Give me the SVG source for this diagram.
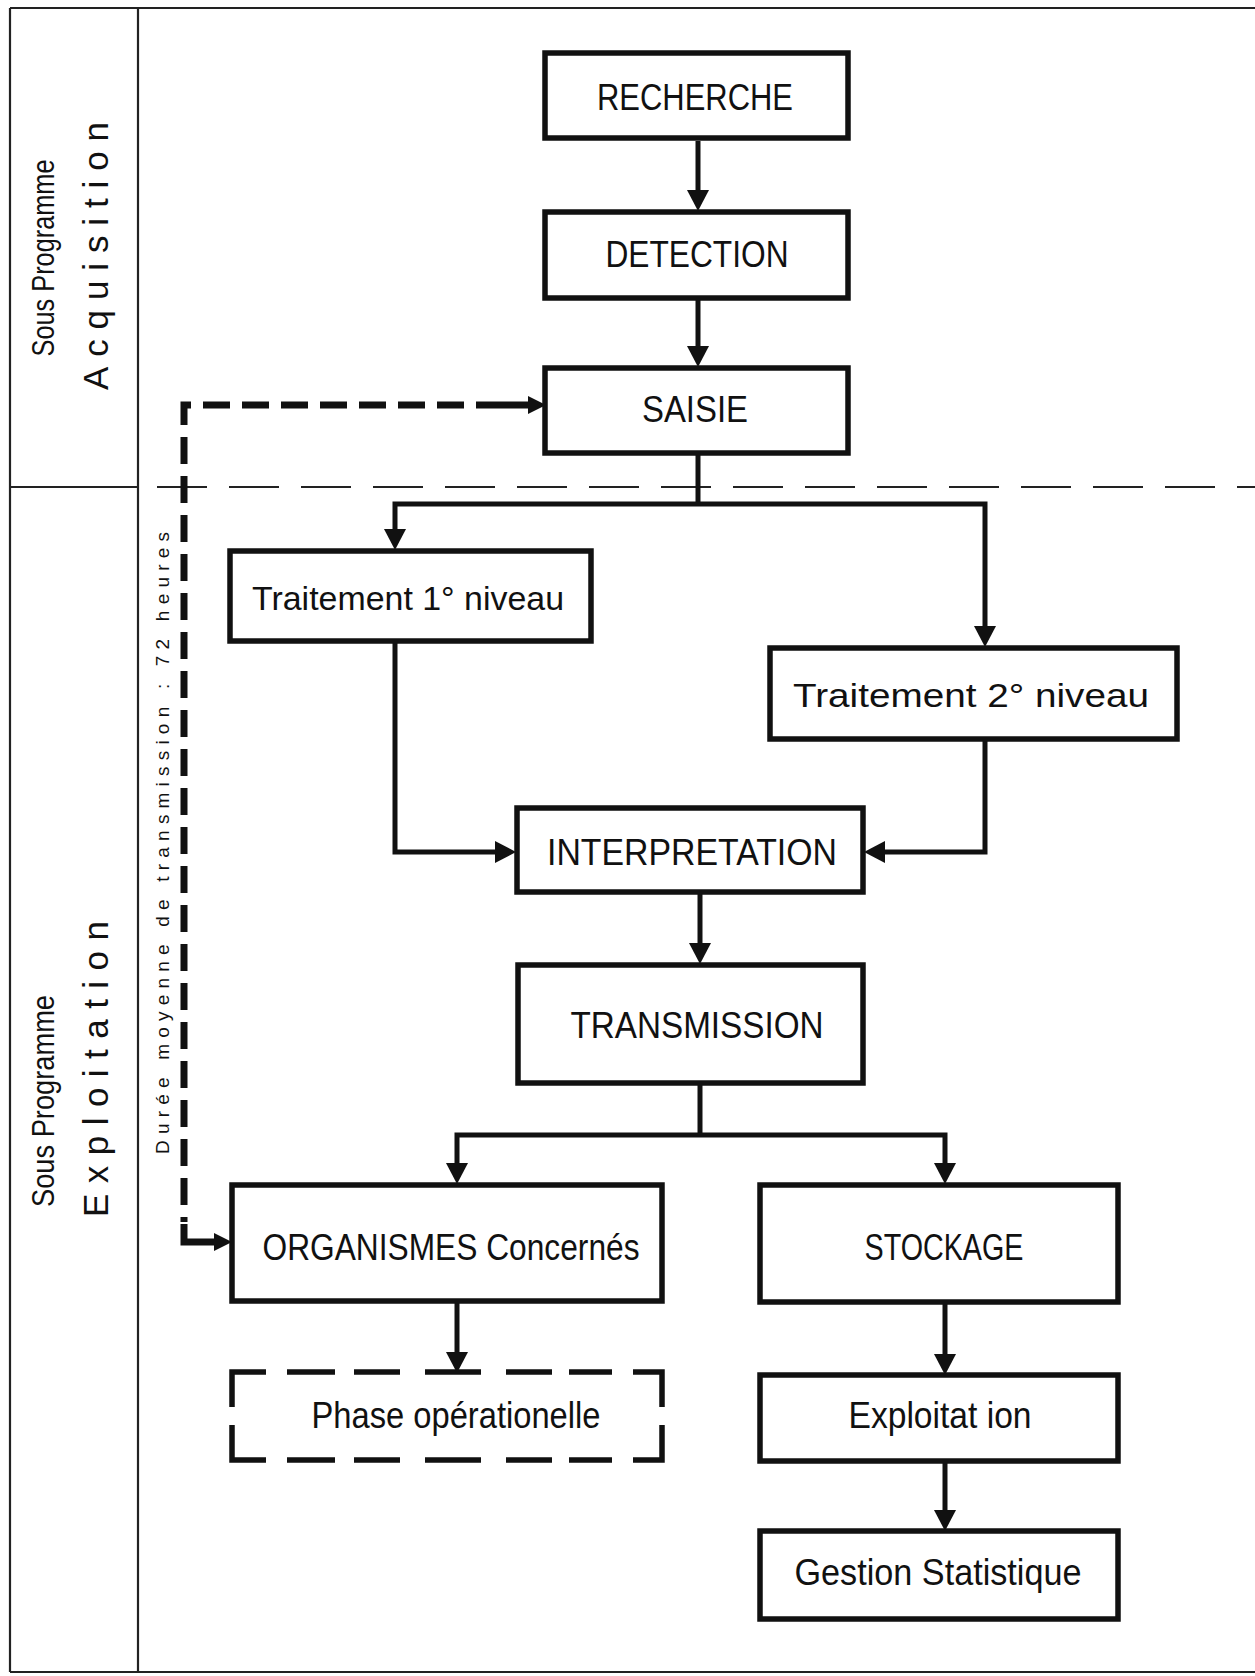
<svg xmlns="http://www.w3.org/2000/svg" width="1255" height="1676" viewBox="0 0 1255 1676">
<defs>
<style>
.frame{fill:none;stroke:#222;stroke-width:2.2}
.sect{fill:none;stroke:#222;stroke-width:2;stroke-dasharray:50 22}
.box{fill:#fff;stroke:#111;stroke-width:5.5}
.dbox{fill:none;stroke:#111;stroke-width:5.5;stroke-linecap:butt}
.conn{fill:none;stroke:#111;stroke-width:5;stroke-linejoin:miter}
.fb{fill:none;stroke:#111;stroke-width:7;stroke-dasharray:27 12}
.fbs{fill:none;stroke:#111;stroke-width:7;stroke-linejoin:miter}
.lbl{font-family:"Liberation Sans","DejaVu Sans",Arial,sans-serif;fill:#111;text-anchor:middle}
.cap{font-size:37px}
.low{font-size:34px}
.side1{font-size:31px}
.side2{font-size:35px}
.small{font-size:19px}
</style>
<marker id="ah" markerUnits="userSpaceOnUse" markerWidth="22" markerHeight="22" refX="10" refY="11" orient="auto" viewBox="0 0 22 22">
<path d="M0,0 L21,11 L0,22 z" fill="#111"/>
</marker>
<marker id="ahs" markerUnits="userSpaceOnUse" markerWidth="20" markerHeight="20" refX="8" refY="10" orient="auto" viewBox="0 0 20 20">
<path d="M0,1 L18,10 L0,19 z" fill="#111"/>
</marker>
</defs>
<rect width="1255" height="1676" fill="#fff"/>

<g id="frame">
<path class="frame" d="M10,8 H1255 M10,8 V1672 M138,8 V1672 M10,1672 H1255 M10,487 H138"/>
<path class="sect" d="M157,487 H1255"/>
</g>

<g id="side-labels">
<text class="lbl side1" transform="translate(54,258) rotate(-90)" textLength="197" lengthAdjust="spacingAndGlyphs">Sous Programme</text>
<text class="lbl side2" transform="translate(108,256) rotate(-90)" textLength="268" lengthAdjust="spacing">Acquisition</text>
<text class="lbl side1" transform="translate(54,1101) rotate(-90)" textLength="212" lengthAdjust="spacingAndGlyphs">Sous Programme</text>
<text class="lbl side2" transform="translate(108,1069) rotate(-90)" textLength="296" lengthAdjust="spacing">Exploitation</text>
</g>

<g id="connectors">
<path class="conn" d="M698,141 V200" marker-end="url(#ah)"/>
<path class="conn" d="M698,300 V356" marker-end="url(#ah)"/>
<path class="conn" d="M698,454 V504"/>
<path class="conn" d="M698,504 H395 V539" marker-end="url(#ah)"/>
<path class="conn" d="M698,504 H985 V636" marker-end="url(#ah)"/>
<path class="conn" d="M395,643 V852 H505" marker-end="url(#ah)"/>
<path class="conn" d="M985,741 V852 H875" marker-end="url(#ah)"/>
<path class="conn" d="M700,894 V953" marker-end="url(#ah)"/>
<path class="conn" d="M700,1085 V1135"/>
<path class="conn" d="M700,1135 H457 V1173" marker-end="url(#ah)"/>
<path class="conn" d="M700,1135 H945 V1173" marker-end="url(#ah)"/>
<path class="conn" d="M457,1303 V1362" marker-end="url(#ah)"/>
<path class="conn" d="M945,1304 V1364" marker-end="url(#ah)"/>
<path class="conn" d="M945,1463 V1520" marker-end="url(#ah)"/>
<path class="fb" d="M503,405 H184 V1222"/>
<path class="fbs" d="M503,405 H536" marker-end="url(#ahs)"/>
<path class="fbs" d="M184,1224 V1242 H222" marker-end="url(#ahs)"/>
<text class="lbl small" transform="translate(169,843) rotate(-90)" textLength="622" lengthAdjust="spacing">Durée moyenne de transmission : 72 heures</text>
</g>

<g id="recherche">
<rect class="box" x="545" y="53" width="303" height="85"/>
<text class="lbl cap" x="695" y="110" textLength="196" lengthAdjust="spacingAndGlyphs">RECHERCHE</text>
</g>
<g id="detection">
<rect class="box" x="545" y="212" width="303" height="86"/>
<text class="lbl cap" x="697" y="267" textLength="183" lengthAdjust="spacingAndGlyphs">DETECTION</text>
</g>
<g id="saisie">
<rect class="box" x="545" y="368" width="303" height="85"/>
<text class="lbl cap" x="695" y="422" textLength="106" lengthAdjust="spacingAndGlyphs">SAISIE</text>
</g>
<g id="traitement1">
<rect class="box" x="230" y="551" width="361" height="90"/>
<text class="lbl low" x="408" y="610" textLength="312" lengthAdjust="spacingAndGlyphs">Traitement 1° niveau</text>
</g>
<g id="traitement2">
<rect class="box" x="770" y="648" width="407" height="91"/>
<text class="lbl low" x="971" y="707" textLength="356" lengthAdjust="spacingAndGlyphs">Traitement 2° niveau</text>
</g>
<g id="interpretation">
<rect class="box" x="517" y="808" width="346" height="84"/>
<text class="lbl cap" x="692" y="865" textLength="290" lengthAdjust="spacingAndGlyphs">INTERPRETATION</text>
</g>
<g id="transmission">
<rect class="box" x="518" y="965" width="345" height="118"/>
<text class="lbl cap" x="697" y="1038" textLength="253" lengthAdjust="spacingAndGlyphs">TRANSMISSION</text>
</g>
<g id="organismes">
<rect class="box" x="232" y="1185" width="430" height="116"/>
<text class="lbl cap" x="451" y="1260" textLength="377" lengthAdjust="spacingAndGlyphs">ORGANISMES Concernés</text>
</g>
<g id="stockage">
<rect class="box" x="760" y="1185" width="358" height="117"/>
<text class="lbl cap" x="944" y="1260" textLength="159" lengthAdjust="spacingAndGlyphs">STOCKAGE</text>
</g>
<g id="phase">
<path class="dbox" d="M232,1407 V1372 H266 M287,1372 H335 M354,1372 H400 M425,1372 H481 M506,1372 H552 M569,1372 H612 M633,1372 H662 V1407 M662,1425 V1460 H633 M612,1460 H569 M552,1460 H506 M481,1460 H425 M400,1460 H354 M335,1460 H287 M266,1460 H232 V1425"/>
<text class="lbl cap" x="456" y="1428" textLength="289" lengthAdjust="spacingAndGlyphs">Phase opérationelle</text>
</g>
<g id="exploitation">
<rect class="box" x="760" y="1375" width="358" height="86"/>
<text class="lbl cap" x="940" y="1428" textLength="183" lengthAdjust="spacingAndGlyphs">Exploitat ion</text>
</g>
<g id="gestion">
<rect class="box" x="760" y="1531" width="358" height="88"/>
<text class="lbl cap" x="938" y="1585" textLength="287" lengthAdjust="spacingAndGlyphs">Gestion Statistique</text>
</g>
</svg>
